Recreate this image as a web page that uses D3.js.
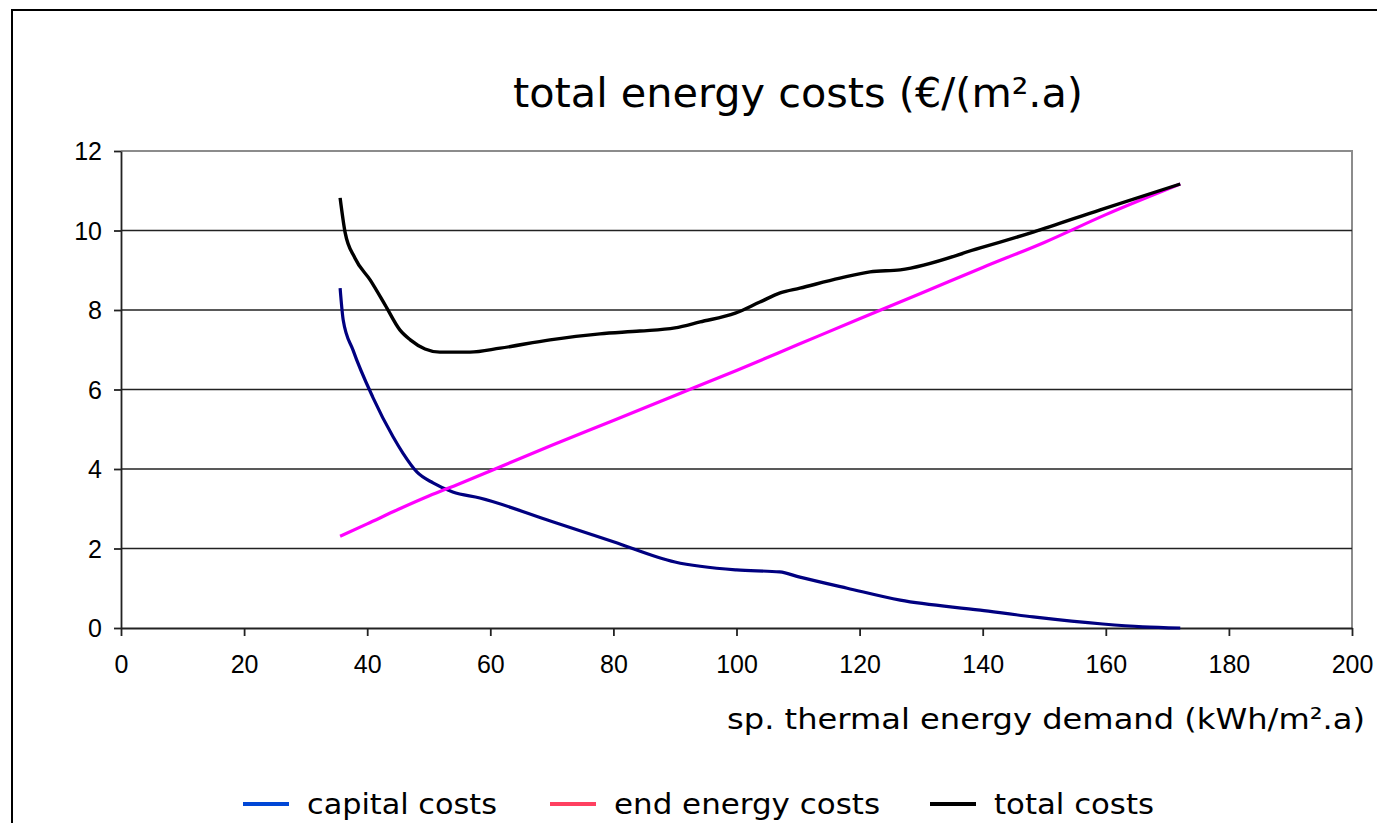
<!DOCTYPE html>
<html>
<head>
<meta charset="utf-8">
<script src="https://cdn.jsdelivr.net/npm/d3@7"></script>
<style>
  html, body { margin: 0; padding: 0; background: #fff; }
  svg { display: block; }
</style>
</head>
<body>
<svg id="chart" width="1377" height="823"></svg>
<script>
// Specific thermal energy demand (kWh/m².a) against costs (€/(m².a))
const capitalX = [35.6, 36.1, 37.7, 40.9, 44.2, 45.8, 48.1, 50.7, 53.9, 58.3, 70, 80, 90, 100, 107, 110.3, 118, 126.6, 139.6, 148.2, 159.5, 166, 172.1];
const capitalY = [8.55, 7.75, 6.99, 5.81, 4.81, 4.40, 3.92, 3.65, 3.42, 3.27, 2.68, 2.17, 1.66, 1.46, 1.41, 1.28, 1.0, 0.70, 0.45, 0.28, 0.10, 0.03, 0.0];

const energyX = [35.6, 40, 45, 50, 55, 60, 70, 80, 90, 100, 110, 120, 130, 140, 150, 160, 172.1];
const energyY = [2.31, 2.62, 2.98, 3.32, 3.63, 3.95, 4.6, 5.22, 5.85, 6.48, 7.13, 7.78, 8.42, 9.07, 9.7, 10.4, 11.17];

const totalX = [35.6, 36.4, 38.0, 40.5, 42.9, 45.3, 47.0, 49.4, 51.8, 56.7, 61.6, 69.7, 77.8, 84.3, 90, 94.1, 99.8, 103.8, 107.1, 110.3, 116.8, 121.7, 126.6, 139.6, 148.2, 159.1, 172.1];
const totalY = [10.82, 9.96, 9.31, 8.75, 8.13, 7.50, 7.25, 7.02, 6.94, 6.94, 7.04, 7.25, 7.40, 7.47, 7.55, 7.70, 7.92, 8.20, 8.43, 8.55, 8.80, 8.96, 9.01, 9.56, 9.96, 10.52, 11.17];

const xTicks = [0, 20, 40, 60, 80, 100, 120, 140, 160, 180, 200];
const yTicks = [0, 2, 4, 6, 8, 10, 12];

const seriesNames = ["capital costs", "end energy costs", "total costs"];
const lineColors = ["#000080", "#ff00ff", "#000000"];
const legendColors = ["#0047d6", "#ff4060", "#000000"];

const titleText = "total energy costs (€/(m².a)";
const xTitle = "sp. thermal energy demand (kWh/m².a)";

const svg = d3.select("#chart");
const textFont = "'DejaVu Sans', Verdana, sans-serif";

// outer frame
svg.append("rect")
  .attr("x", 12).attr("y", 10)
  .attr("width", 1400).attr("height", 900)
  .attr("fill", "none").attr("stroke", "#000").attr("stroke-width", 2);

const plot = { left: 121, right: 1352, top: 151, bottom: 628 };

const x = d3.scaleLinear().domain([0, 200]).range([plot.left, plot.right]);
const y = d3.scaleLinear().domain([0, 12]).range([plot.bottom, plot.top]);

// plot area border (top & right)
svg.append("path")
  .attr("d", `M${plot.left},${plot.top}H${plot.right}V${plot.bottom}`)
  .attr("fill", "none").attr("stroke", "#8c8c8c").attr("stroke-width", 2);

// horizontal gridlines
svg.append("g")
  .selectAll("line")
  .data(yTicks.filter(d => d > 0 && d < 12))
  .join("line")
  .attr("x1", plot.left).attr("x2", plot.right)
  .attr("y1", d => y(d)).attr("y2", d => y(d))
  .attr("stroke", "#222").attr("stroke-width", 1.6);

// axes
const xAxis = svg.append("g")
  .attr("transform", `translate(0,${plot.bottom})`)
  .call(d3.axisBottom(x).tickValues(xTicks).tickSize(8).tickPadding(19).tickSizeOuter(0));
const yAxis = svg.append("g")
  .attr("transform", `translate(${plot.left},0)`)
  .call(d3.axisLeft(y).tickValues(yTicks).tickSize(7).tickPadding(12).tickSizeOuter(0));

[xAxis, yAxis].forEach(a => {
  a.select(".domain").attr("stroke", "#222").attr("stroke-width", 1.8);
  a.selectAll(".tick line").attr("stroke", "#222").attr("stroke-width", 1.8);
  a.selectAll(".tick text")
    .attr("fill", "#000")
    .style("font-family", "'Liberation Sans', Arial, sans-serif")
    .style("font-size", "25px");
});
yAxis.selectAll(".tick text").attr("dy", "0.35em");

// series lines
const line = d3.line().x(d => x(d[0])).y(d => y(d[1])).curve(d3.curveMonotoneX);
const series = [
  d3.zip(capitalX, capitalY),
  d3.zip(energyX, energyY),
  d3.zip(totalX, totalY)
];
const widths = [3.2, 3.2, 3.4];
svg.append("g")
  .selectAll("path")
  .data(series)
  .join("path")
  .attr("d", line)
  .attr("fill", "none")
  .attr("stroke", (d, i) => lineColors[i])
  .attr("stroke-width", (d, i) => widths[i])
  .attr("stroke-linejoin", "round");

// title
svg.append("text")
  .attr("x", 798).attr("y", 107)
  .attr("text-anchor", "middle")
  .attr("textLength", 570).attr("lengthAdjust", "spacingAndGlyphs")
  .style("font-family", textFont)
  .style("font-size", "40px")
  .attr("fill", "#000")
  .text(titleText);

// x-axis title
svg.append("text")
  .attr("x", 1365).attr("y", 729)
  .attr("text-anchor", "end")
  .attr("textLength", 638).attr("lengthAdjust", "spacingAndGlyphs")
  .style("font-family", textFont)
  .style("font-size", "29px")
  .attr("fill", "#000")
  .text(xTitle);

// legend
const legendX = [243, 550, 930];
const legendLen = [190, 266, 160];
const lg = svg.append("g")
  .selectAll("g")
  .data(seriesNames)
  .join("g")
  .attr("transform", (d, i) => `translate(${legendX[i]},804)`);
lg.append("line")
  .attr("x1", 0).attr("x2", 46).attr("y1", 0).attr("y2", 0)
  .attr("stroke", (d, i) => legendColors[i]).attr("stroke-width", 4);
lg.append("text")
  .attr("x", 64).attr("y", 10)
  .attr("textLength", (d, i) => legendLen[i]).attr("lengthAdjust", "spacingAndGlyphs")
  .style("font-family", textFont)
  .style("font-size", "28px")
  .attr("fill", "#000")
  .text(d => d);
</script>
</body>
</html>
